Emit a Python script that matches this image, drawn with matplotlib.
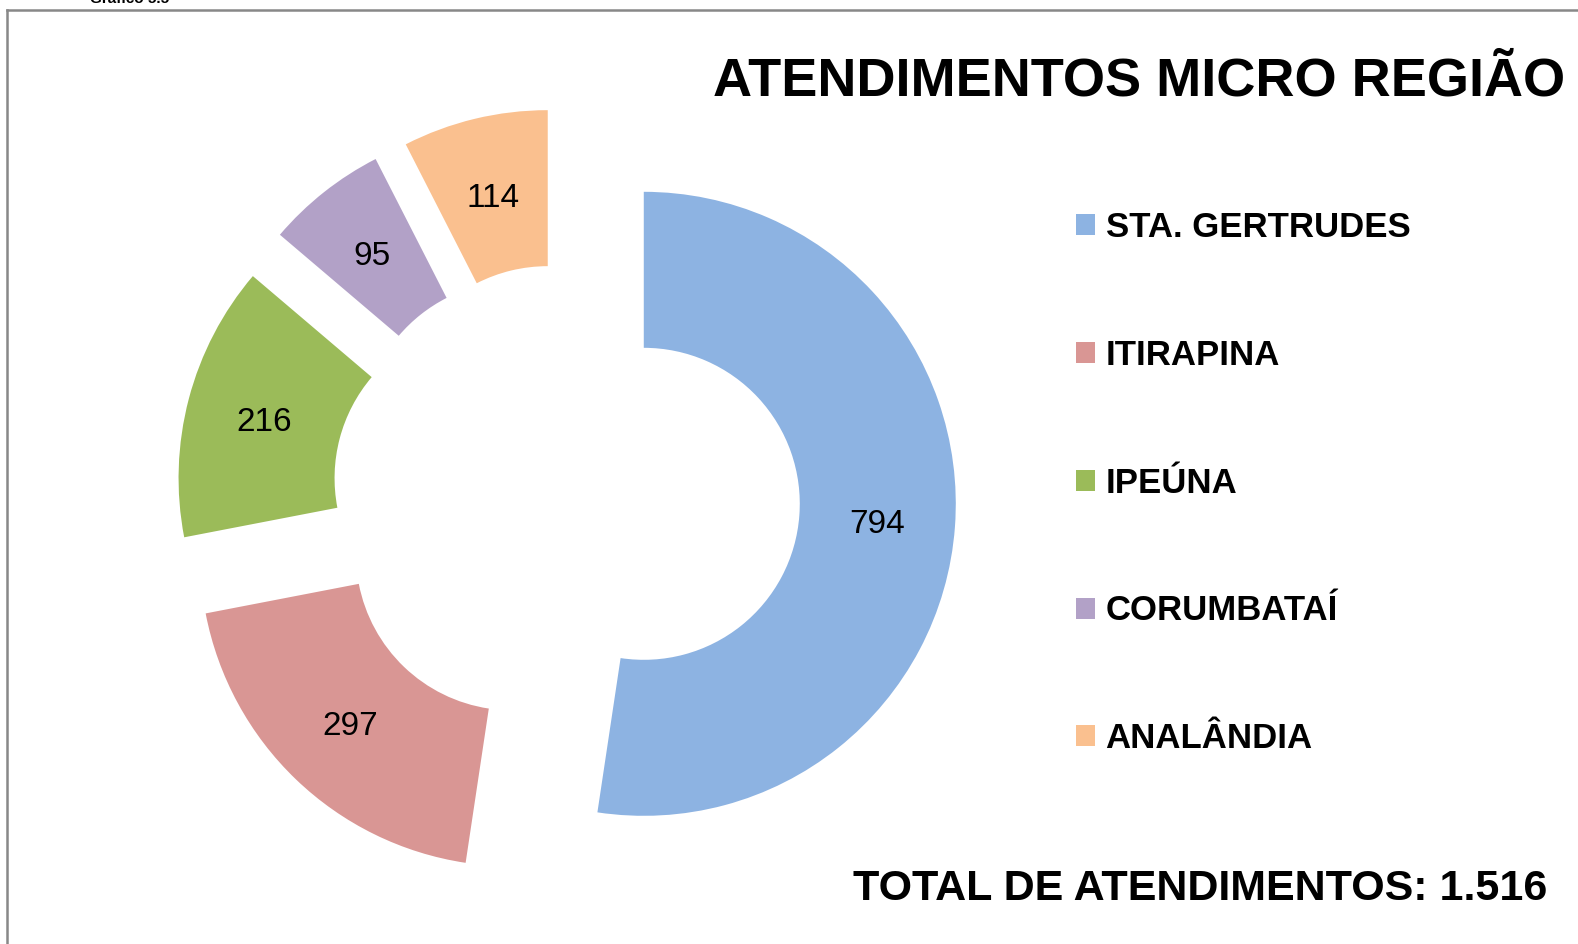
import matplotlib
matplotlib.use('Agg')
import matplotlib.pyplot as plt
from matplotlib.lines import Line2D

plt.rcParams['font.family'] = ['Liberation Sans', 'DejaVu Sans']

# data
regioes = ['STA. GERTRUDES', 'ITIRAPINA', 'IPEÚNA', 'CORUMBATAÍ', 'ANALÂNDIA']
atendimentos = [794, 297, 216, 95, 114]
cores = ['#8DB3E2', '#D99694', '#9BBB59', '#B2A1C7', '#FAC08F']
total = sum(atendimentos)

W, H = 1578, 944
fig = plt.figure(figsize=(W / 100, H / 100), dpi=100)
ax = fig.add_axes([0, 0, 1, 1])

wedges, texts, autotexts = ax.pie(
    atendimentos, colors=cores, startangle=90, counterclock=False,
    explode=[0.25] * len(atendimentos), radius=1,
    wedgeprops=dict(width=0.5, linewidth=0),
    autopct=lambda p: '%d' % round(p * total / 100), pctdistance=0.75,
    textprops=dict(fontsize=24, color='black'))
for t in autotexts:
    t.set_va('center_baseline')

# 1 unit = 312 px, donut centre at (566, 498) px
R = 312.0
cx, cy = 566.0, H - 498.0
ax.set_xlim(-cx / R, (W - cx) / R)
ax.set_ylim(-cy / R, (H - cy) / R)
ax.set_aspect('equal')
ax.axis('off')

# frame
fig.add_artist(Line2D([7 / W, 7 / W], [0, 1 - 10 / H], color='#888888', lw=1.8))
fig.add_artist(Line2D([7 / W, 1], [1 - 10 / H, 1 - 10 / H], color='#888888', lw=1.8))
fig.text(90 / W, 1 - 2.7 / H, 'Gráfico 5.5', fontsize=11, fontweight='bold', va='baseline')

fig.text(1139 / W, 1 - 95 / H, 'ATENDIMENTOS MICRO REGIÃO', fontsize=39,
         fontweight='bold', ha='center', va='baseline')
fig.text(1200 / W, 1 - 900 / H, 'TOTAL DE ATENDIMENTOS: %s' % f'{total:,}'.replace(',', '.'),
         fontsize=31, fontweight='bold', ha='center', va='baseline')

leg = ax.legend(wedges, regioes, loc='upper left', bbox_to_anchor=(1076 / W, 1 - 211 / H),
                bbox_transform=fig.transFigure, frameon=False, borderpad=0, borderaxespad=0,
                handlelength=0.55, handleheight=0.55, handletextpad=0.3, labelspacing=2.73,
                prop=dict(size=25, weight='bold'))

fig.savefig('out.png', dpi=100)
